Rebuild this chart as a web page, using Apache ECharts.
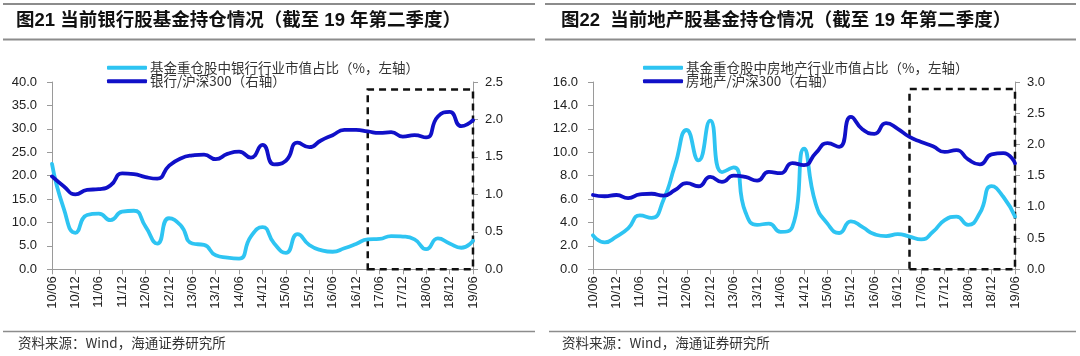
<!DOCTYPE html>
<html>
<head>
<meta charset="utf-8">
<script src="https://cdn.jsdelivr.net/npm/echarts@6/dist/echarts.min.js"></script>
<style>
html,body{margin:0;padding:0;background:#fff;}
#c{width:1080px;height:356px;}
</style>
</head>
<body>
<div id="c"></div>
<script>
const categories = ['10/06','10/09','10/12','11/03','11/06','11/09','11/12','12/03','12/06','12/09','12/12','13/03','13/06','13/09','13/12','14/03','14/06','14/09','14/12','15/03','15/06','15/09','15/12','16/03','16/06','16/09','16/12','17/03','17/06','17/09','17/12','18/03','18/06','18/09','18/12','19/03','19/06'];

// 图21 银行
const bankShare = [22.5,13.0,7.8,11.6,11.9,10.5,12.3,12.5,9.1,5.5,10.9,9.4,5.5,5.2,3.0,2.5,2.3,7.0,9.0,5.5,3.5,7.5,5.2,4.1,3.75,4.5,5.4,6.4,6.5,7.1,7.0,6.4,4.3,6.6,5.5,4.6,6.1];
const bankRel = [1.24,1.11,1.00,1.06,1.07,1.12,1.28,1.27,1.23,1.21,1.38,1.48,1.52,1.53,1.47,1.54,1.57,1.49,1.66,1.40,1.45,1.69,1.63,1.72,1.79,1.86,1.86,1.84,1.82,1.83,1.77,1.79,1.76,2.04,2.10,1.91,1.99];

// 图22 地产
const estateShare = [2.9,2.3,2.8,3.5,4.6,4.4,5.9,8.9,11.9,9.3,12.7,8.3,8.7,4.9,3.8,3.9,3.2,3.6,10.3,5.6,3.9,3.1,4.1,3.6,3.0,2.84,3.0,2.8,2.56,3.2,4.2,4.5,3.8,4.8,7.1,6.2,4.5];
const estateRel = [1.19,1.17,1.19,1.14,1.20,1.21,1.18,1.27,1.38,1.33,1.48,1.40,1.50,1.48,1.42,1.56,1.54,1.70,1.67,1.86,2.02,1.96,2.44,2.24,2.17,2.34,2.25,2.12,2.04,1.97,1.88,1.91,1.76,1.68,1.84,1.86,1.70];

const leftAxisTicks1 = {min:0, max:40, interval:5};
const rightAxisTicks1 = {min:0, max:2.5, interval:0.5};
const leftAxisTicks2 = {min:0, max:16, interval:2};
const rightAxisTicks2 = {min:0, max:3, interval:0.5};

const names = {
  bankShare: '基金重仓股中银行行业市值占比（%，左轴）',
  bankRel: '银行/沪深300（右轴）',
  estateShare: '基金重仓股中房地产行业市值占比（%，左轴）',
  estateRel: '房地产/沪深300（右轴）'
};
const titles = ['图21 当前银行股基金持仓情况（截至 19 年第二季度）','图22  当前地产股基金持仓情况（截至 19 年第二季度）'];
const sourceText = '资料来源：Wind，海通证券研究所';
const boxStart = '17/03', boxEnd = '19/06';
const boxTop1 = 38.4, boxTop2 = 15.4;

const LIGHT = '#2EC4F2';
const DARK = '#1010C8';
const FONT = "'Liberation Sans', 'Noto Sans CJK SC', sans-serif";
const CJK = "'Noto Sans CJK SC', sans-serif";
const AX = '#9a9a9a';

function xAxis(gi){
  return {
    type:'category', gridIndex:gi, data:categories, boundaryGap:false,
    axisLine:{show:true, lineStyle:{color:AX, width:1}},
    axisTick:{show:true, interval:1, length:5, lineStyle:{color:AX}},
    axisLabel:{interval:1, rotate:90, fontSize:13, color:'#222', fontFamily:FONT, margin:7},
    splitLine:{show:false}
  };
}
function yAxis(gi, pos, t, margin){
  return {
    type:'value', gridIndex:gi, position:pos, min:t.min, max:t.max, interval:t.interval,
    axisLine:{show:true, lineStyle:{color:AX, width:1}},
    axisTick:{show:true, length:5, lineStyle:{color:AX}},
    axisLabel:{fontSize:13, color:'#222', fontFamily:FONT, margin:margin, formatter:v=>v.toFixed(1)},
    splitLine:{show:false}
  };
}
function box(top){
  return {
    silent:true,
    itemStyle:{color:'rgba(0,0,0,0)', borderColor:'#111', borderWidth:2.5, borderType:[7,5]},
    data:[[{xAxis:boxStart, yAxis:0},{xAxis:boxEnd, yAxis:top}]]
  };
}
function line(name, data, xi, yi, color, extra){
  return Object.assign({
    name:name, type:'line', xAxisIndex:xi, yAxisIndex:yi, data:data,
    smooth:0.55, showSymbol:false, symbol:'none',
    lineStyle:{color:color, width:3.8, cap:'round', join:'round'}, itemStyle:{color:color}
  }, extra||{});
}

const chart = echarts.init(document.getElementById('c'), null, {renderer:'canvas'});
chart.setOption({
  animation:false,
  backgroundColor:'#fff',
  title:[
    {text:titles[0], left:16, top:12, padding:0, textStyle:{fontSize:18.5, fontWeight:'bold', color:'#111', fontFamily:FONT}},
    {text:titles[1], left:561, top:12, padding:0, textStyle:{fontSize:18.5, fontWeight:'bold', color:'#111', fontFamily:FONT}},
    {text:sourceText, left:18, top:336, padding:0, textStyle:{fontSize:13.5, fontWeight:'normal', color:'#333', fontFamily:CJK}},
    {text:sourceText, left:562, top:336, padding:0, textStyle:{fontSize:13.5, fontWeight:'normal', color:'#333', fontFamily:CJK}}
  ],
  legend:[
    {data:[names.bankShare, names.bankRel], orient:'vertical', left:107, top:61, itemWidth:40, itemHeight:4, itemGap:0, padding:0,
     icon:'roundRect', textStyle:{fontSize:13.5, color:'#333', fontFamily:CJK, lineHeight:13.5, padding:[0,0,0,-2]}},
    {data:[names.estateShare, names.estateRel], orient:'vertical', left:643, top:61, itemWidth:40, itemHeight:4, itemGap:0, padding:0,
     icon:'roundRect', textStyle:{fontSize:13.5, color:'#333', fontFamily:CJK, lineHeight:13.5, padding:[0,0,0,-2]}}
  ],
  grid:[
    {left:52, top:82, width:421, height:187.3},
    {left:593, top:82, width:422, height:187.3}
  ],
  xAxis:[xAxis(0), xAxis(1)],
  yAxis:[
    yAxis(0,'left',leftAxisTicks1,15),
    yAxis(0,'right',rightAxisTicks1,12),
    yAxis(1,'left',leftAxisTicks2,15),
    yAxis(1,'right',rightAxisTicks2,12)
  ],
  series:[
    line(names.bankShare, bankShare, 0, 0, LIGHT, {markArea:box(boxTop1)}),
    line(names.bankRel, bankRel, 0, 1, DARK),
    line(names.estateShare, estateShare, 1, 2, LIGHT, {markArea:box(boxTop2)}),
    line(names.estateRel, estateRel, 1, 3, DARK)
  ],
  graphic:[
    {type:'line', shape:{x1:3, y1:4, x2:535, y2:4}, style:{stroke:'#8c8c8c', lineWidth:2}},
    {type:'line', shape:{x1:3, y1:39.5, x2:535, y2:39.5}, style:{stroke:'#8c8c8c', lineWidth:2}},
    {type:'line', shape:{x1:3, y1:331.5, x2:535, y2:331.5}, style:{stroke:'#8c8c8c', lineWidth:1.5}},
    {type:'line', shape:{x1:545, y1:4, x2:1076, y2:4}, style:{stroke:'#8c8c8c', lineWidth:2}},
    {type:'line', shape:{x1:545, y1:39.5, x2:1076, y2:39.5}, style:{stroke:'#8c8c8c', lineWidth:2}},
    {type:'line', shape:{x1:549, y1:331.5, x2:1076, y2:331.5}, style:{stroke:'#8c8c8c', lineWidth:1.5}}
  ]
});
</script>
</body>
</html>
